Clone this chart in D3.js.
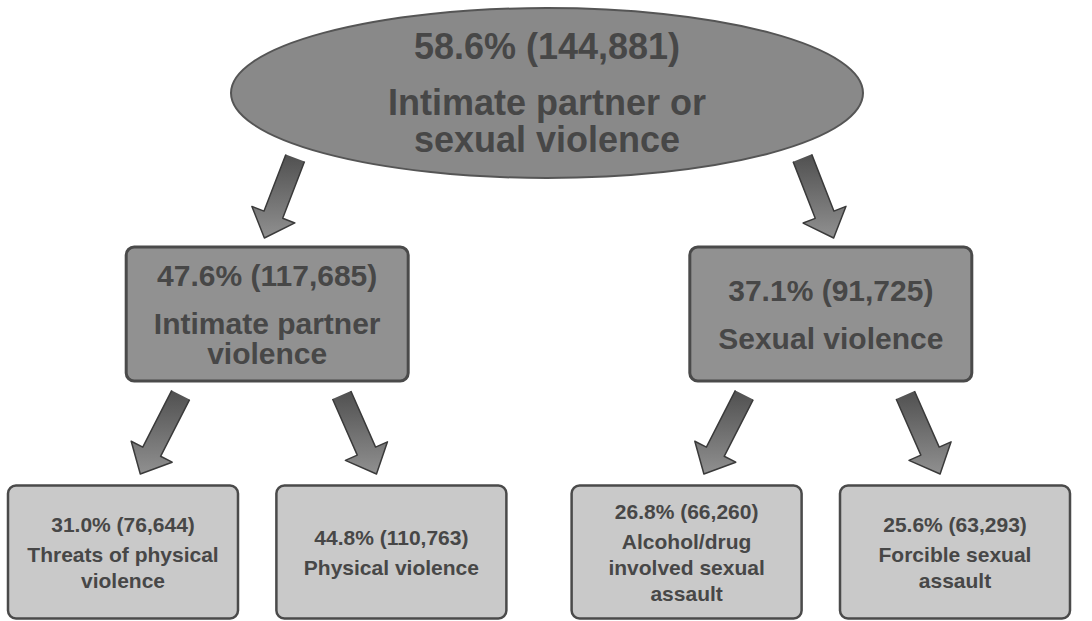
<!DOCTYPE html>
<html>
<head>
<meta charset="utf-8">
<script src="https://cdn.jsdelivr.net/npm/d3@7"></script>
<style>
  body { margin: 0; background: #fff; }
  text { font-family: "Liberation Sans", Arial, sans-serif; font-weight: bold; fill: #474747; }
</style>
</head>
<body>
<svg id="chart" width="1092" height="621"></svg>
<script>
// Node data (tree order: root, two branches, four leaves)
const ids = ["all", "ipv", "sv", "threat", "phys", "alc", "force"];
const parents = [null, "all", "all", "ipv", "ipv", "sv", "sv"];
const pcts = [58.6, 47.6, 37.1, 31.0, 44.8, 26.8, 25.6];
const counts = [144881, 117685, 91725, 76644, 110763, 66260, 63293];
const labels = [
    ["Intimate partner or", "sexual violence"],
    ["Intimate partner", "violence"],
    ["Sexual violence"],
    ["Threats of physical", "violence"],
    ["Physical violence"],
    ["Alcohol/drug", "involved sexual", "assault"],
    ["Forcible sexual", "assault"]
];

const width = 1092, height = 621;
const svg = d3.select("#chart");

// Per-level layout settings
const levelY = [93, 314, 552];
const levelShift = [8, 10, 0];
const levelFont = [36, 30, 21];
const levelGap = [56, 48, 30];   // value line -> first label line
const levelLine = [37, 30, 26];  // label line height
const boxW = [632, 282, 230];
const boxH = [170, 134, 133];

const fmtPct = d3.format(".1f");
const fmtCount = d3.format(",");

const rows = ids.map((id, i) => ({id, parent: parents[i], pct: pcts[i], count: counts[i], label: labels[i]}));
const root = d3.stratify().id(d => d.id).parentId(d => d.parent)(rows);

// tree layout, slightly wider gap between the two families
d3.tree().size([1, 1]).separation((a, b) => a.parent === b.parent ? 1 : 1.1)(root);

const leaves = root.leaves();
const x = d3.scaleLinear()
    .domain(d3.extent(leaves, d => d.x))
    .range([123, 955]);

root.each(d => {
    d.cx = x(d.x) + levelShift[d.depth];
    d.cy = levelY[d.depth];
});

// gradient for arrows
const defs = svg.append("defs");
const grad = defs.append("linearGradient").attr("id", "arrowGrad")
    .attr("x1", 0).attr("y1", 0).attr("x2", 0).attr("y2", 1);
grad.append("stop").attr("offset", "0%").attr("stop-color", "#505050");
grad.append("stop").attr("offset", "100%").attr("stop-color", "#909090");

// block arrow from (x0,y0) to tip (x1,y1)
function arrowPath(x0, y0, x1, y1) {
    const w = 10, hw = 23, hl = 25;
    const L = Math.hypot(x1 - x0, y1 - y0);
    const ang = Math.atan2(y1 - y0, x1 - x0);
    const pts = [[0, -w], [L - hl, -w], [L - hl, -hw], [L, 0], [L - hl, hw], [L - hl, w], [0, w]];
    const c = Math.cos(ang), s = Math.sin(ang);
    return d3.line()(pts.map(p => [x0 + p[0] * c - p[1] * s, y0 + p[0] * s + p[1] * c]));
}

// arrow ends per child depth
const arrowCfg = {
    1: {t0: 0.9, t1: 1.01, y0: 158, y1: 238},
    2: {t0: 0.6, t1: 0.88, y0: 395, y1: 474}
};

svg.append("g").selectAll("path")
    .data(root.links())
    .join("path")
    .attr("d", l => {
        const cfg = arrowCfg[l.target.depth];
        const px = l.source.cx, cx = l.target.cx;
        return arrowPath(px + (cx - px) * cfg.t0, cfg.y0, px + (cx - px) * cfg.t1, cfg.y1);
    })
    .attr("fill", "url(#arrowGrad)")
    .attr("stroke", "#3a3a3a")
    .attr("stroke-width", 1.5)
    .attr("stroke-linejoin", "round");

// nodes
const node = svg.append("g").selectAll("g")
    .data(root.descendants())
    .join("g")
    .attr("transform", d => `translate(${d.cx},${d.cy})`);

node.filter(d => d.depth === 0).append("ellipse")
    .attr("rx", d => boxW[d.depth] / 2)
    .attr("ry", d => boxH[d.depth] / 2)
    .attr("fill", "#898989")
    .attr("stroke", "#555")
    .attr("stroke-width", 2);

node.filter(d => d.depth > 0).append("rect")
    .attr("x", d => -boxW[d.depth] / 2)
    .attr("y", d => -boxH[d.depth] / 2)
    .attr("width", d => boxW[d.depth])
    .attr("height", d => boxH[d.depth])
    .attr("rx", 8)
    .attr("fill", d => d.depth === 1 ? "#919191" : "#c9c9c9")
    .attr("stroke", "#4a4a4a")
    .attr("stroke-width", d => d.depth === 1 ? 3 : 2.5);

node.each(function (d) {
    const g = d3.select(this);
    const lines = [fmtPct(d.data.pct) + "% (" + fmtCount(d.data.count) + ")"].concat(d.data.label);
    const gap = levelGap[d.depth], lh = levelLine[d.depth];
    const span = gap + lh * (lines.length - 2);
    const offs = lines.map((t, i) => i === 0 ? -span / 2 : -span / 2 + gap + lh * (i - 1));
    g.selectAll("text")
        .data(lines)
        .join("text")
        .attr("text-anchor", "middle")
        .attr("y", (t, i) => offs[i])
        .attr("dy", "0.36em")
        .style("font-size", levelFont[d.depth] + "px")
        .text(t => t);
});
</script>
</body>
</html>
